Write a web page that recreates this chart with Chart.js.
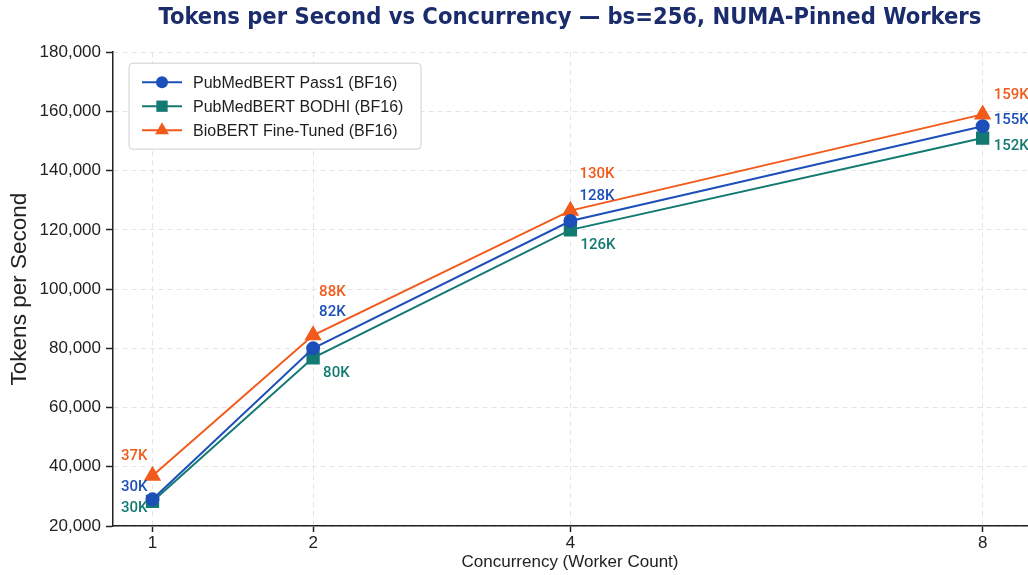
<!DOCTYPE html>
<html><head><meta charset="utf-8">
<script src="https://cdn.jsdelivr.net/npm/chart.js@4.4.1/dist/chart.umd.min.js"></script>
<style>html,body{margin:0;padding:0;background:#fff}#wrap{width:1028px;height:575px;position:relative}</style>
</head><body><div id="wrap"><canvas id="c" width="1028" height="575"></canvas></div>
<script>
// ---- data ----
const concurrency = [1, 2, 4, 8];
const seriesNames = ['PubMedBERT Pass1 (BF16)', 'PubMedBERT BODHI (BF16)', 'BioBERT Fine-Tuned (BF16)'];
const pass1Values = [29000, 80000, 123000, 155000];
const bodhiValues = [28300, 76800, 120000, 151000];
const biobertValues = [37000, 84400, 126500, 159000];
const pass1Labels = ['30K', '82K', '128K', '155K'];
const bodhiLabels = ['30K', '80K', '126K', '152K'];
const biobertLabels = ['37K', '88K', '130K', '159K'];
const yTickValues = [20000, 40000, 60000, 80000, 100000, 120000, 140000, 160000, 180000];

const BLUE = '#1d4fb8', TEAL = '#137a72', ORANGE = '#f25a1b';
const FONT = "'Liberation Sans', Arial, sans-serif";
const COND = "'DejaVu Sans Condensed', 'Liberation Sans Narrow', sans-serif";
const LABEL_FONT = "500 15px Roboto, 'Liberation Sans', sans-serif";

// power-transformed x scale built on Chart.js LinearScale
const P = 0.68;
class PowerScale extends Chart.LinearScale {
  getPixelForValue(v) {
    if (v === null || v === undefined || isNaN(v)) return NaN;
    const a = Math.pow(this.min, P), b = Math.pow(this.max, P);
    return this.getPixelForDecimal((Math.pow(v, P) - a) / (b - a));
  }
  getValueForPixel(px) {
    const a = Math.pow(this.min, P), b = Math.pow(this.max, P);
    return Math.pow(a + this.getDecimalForPixel(px) * (b - a), 1 / P);
  }
}
PowerScale.id = 'power';
PowerScale.defaults = Chart.LinearScale.defaults;
Chart.register(PowerScale);

const toPts = vals => concurrency.map((c, i) => ({ x: c, y: vals[i] }));

// label placement (style): [dx, dy, align] per series per point
const labelPlacement = [
  [[-5, -12, 'right'], [6, -36, 'left'], [9, -25, 'left'], [11, -6, 'left']],
  [[-5, 7, 'right'], [10, 15, 'left'], [10, 15, 'left'], [11, 8, 'left']],
  [[-5, -19, 'right'], [6, -43, 'left'], [9, -36, 'left'], [11, -19, 'left']]
];
const pointLabels = [pass1Labels, bodhiLabels, biobertLabels];

const labelsPlugin = {
  id: 'pointLabels',
  afterDatasetsDraw(chart) {
    const ctx = chart.ctx;
    ctx.save();
    ctx.font = LABEL_FONT;
    ctx.textBaseline = 'middle';
    chart.data.datasets.forEach((ds, di) => {
      const meta = chart.getDatasetMeta(di);
      meta.data.forEach((el, i) => {
        const [dx, dy, al] = labelPlacement[di][i];
        ctx.fillStyle = ds.borderColor;
        ctx.textAlign = al;
        ctx.fillText(pointLabels[di][i], el.x + dx, el.y + dy);
      });
    });
    ctx.restore();
  }
};

const legendPlugin = {
  id: 'insideLegend',
  afterDraw(chart) {
    const ctx = chart.ctx, ca = chart.chartArea;
    const x0 = ca.left + 16, y0 = ca.top + 11, w = 292, h = 86;
    ctx.save();
    ctx.beginPath();
    ctx.roundRect(x0, y0, w, h, 4);
    ctx.fillStyle = 'rgba(255,255,255,0.95)';
    ctx.fill();
    ctx.strokeStyle = '#d0d0d0';
    ctx.lineWidth = 1;
    ctx.stroke();
    chart.data.datasets.forEach((ds, di) => {
      const y = y0 + 19 + di * 24;
      ctx.strokeStyle = ds.borderColor;
      ctx.lineWidth = 2;
      ctx.beginPath();
      ctx.moveTo(x0 + 13, y);
      ctx.lineTo(x0 + 53, y);
      ctx.stroke();
      ctx.fillStyle = ds.pointBackgroundColor;
      ctx.beginPath();
      const r = ds.pointRadius;
      if (ds.pointStyle === 'circle') { ctx.arc(x0 + 33, y, r, 0, Math.PI * 2); }
      else if (ds.pointStyle === 'rect') { const s = r * Math.SQRT1_2; ctx.rect(x0 + 33 - s, y - s, 2 * s, 2 * s); }
      else { ctx.moveTo(x0 + 33, y - r); ctx.lineTo(x0 + 33 + r * 0.866, y + r / 2); ctx.lineTo(x0 + 33 - r * 0.866, y + r / 2); ctx.closePath(); }
      ctx.fill();
      ctx.fillStyle = '#1e1e1e';
      ctx.font = '16px ' + FONT;
      ctx.textAlign = 'left';
      ctx.textBaseline = 'middle';
      ctx.fillText(ds.label, x0 + 64, y + 1);
    });
    ctx.restore();
  }
};

const mkDs = (label, vals, color, style, r) => ({
  label, data: toPts(vals), borderColor: color, backgroundColor: color,
  pointBackgroundColor: color, pointBorderColor: color, pointStyle: style,
  pointRadius: r, pointHoverRadius: r, borderWidth: 2, tension: 0
});

new Chart(document.getElementById('c'), {
  type: 'line',
  data: {
    datasets: [
      mkDs(seriesNames[0], pass1Values, BLUE, 'circle', 6),
      mkDs(seriesNames[1], bodhiValues, TEAL, 'rect', 8),
      mkDs(seriesNames[2], biobertValues, ORANGE, 'triangle', 8)
    ]
  },
  options: {
    responsive: false,
    animation: false,
    layout: { autoPadding: false, padding: { left: 0, right: 1, top: 0, bottom: 0 } },
    plugins: {
      legend: { display: false },
      tooltip: { enabled: false },
      title: {
        display: true,
        fullSize: false,
        text: 'Tokens per Second vs Concurrency — bs=256, NUMA-Pinned Workers',
        color: '#1b2c6c',
        font: { family: COND, size: 23.5, weight: 'bold', lineHeight: 1.2 },
        padding: { top: 4, bottom: 20 }
      }
    },
    scales: {
      x: {
        type: 'power',
        min: 0.79, max: 8.48,
        afterBuildTicks: s => { s.ticks = concurrency.map(v => ({ value: v })); },
        afterFit: s => { s.height = 49; },
        ticks: { color: '#222', font: { family: FONT, size: 17 }, padding: 1, callback: v => String(v) },
        grid: { color: '#e4e4e4', lineWidth: 1, tickColor: '#222', tickLength: 6, tickWidth: 1.5 },
        border: { display: true, color: '#222', width: 1.5, dash: [5, 4] },
        title: { display: true, text: 'Concurrency (Worker Count)', color: '#222', font: { family: FONT, size: 17 }, padding: { top: 0, bottom: 2 } }
      },
      y: {
        min: 20000, max: 180000,
        afterBuildTicks: s => { s.ticks = yTickValues.map(v => ({ value: v })); },
        afterFit: s => { s.width = 113; },
        ticks: { color: '#222', font: { family: FONT, size: 17 }, padding: 5, callback: v => v.toLocaleString('en-US') },
        grid: { color: '#e4e4e4', lineWidth: 1, tickColor: '#222', tickLength: 7, tickWidth: 1.5 },
        border: { display: true, color: '#222', width: 1.5, dash: [5, 4] },
        title: { display: true, text: 'Tokens per Second', color: '#222', font: { family: FONT, size: 22.5 }, padding: { top: 6, bottom: 0 } }
      }
    }
  },
  plugins: [labelsPlugin, legendPlugin]
});
</script>
</body></html>
